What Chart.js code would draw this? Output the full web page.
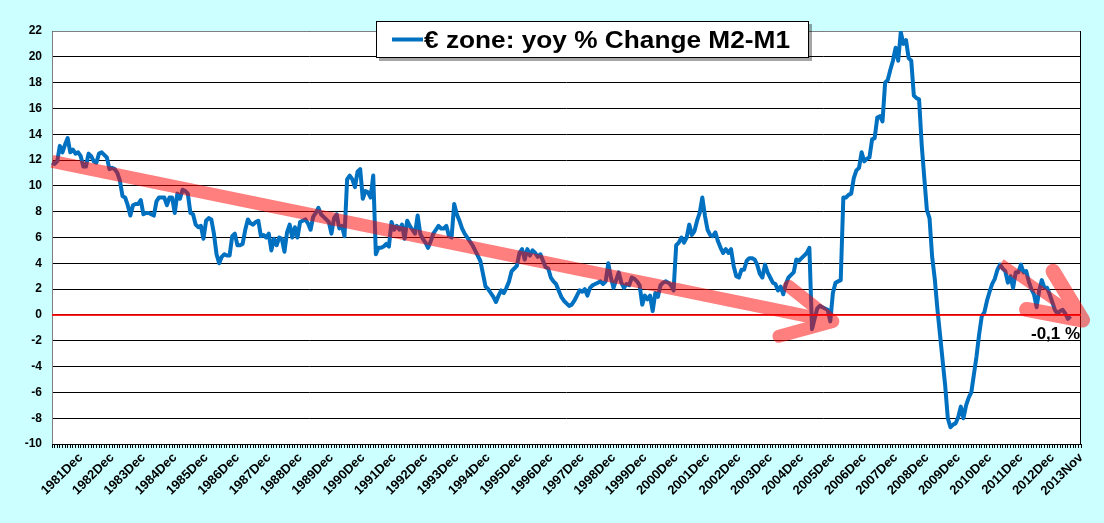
<!DOCTYPE html>
<html>
<head>
<meta charset="utf-8">
<title>€ zone: yoy % Change M2-M1</title>
<script src="https://cdn.jsdelivr.net/npm/chart.js@4.4.1/dist/chart.umd.min.js"></script>
<style>
  html, body { margin: 0; padding: 0; background: #ccffff; }
  canvas { display: block; }
</style>
</head>
<body>
<canvas id="chart" width="1104" height="523"></canvas>
<script>
// Monthly categories, 1981Jan .. 2013Nov
const monthNames = ['Jan', 'Feb', 'Mar', 'Apr', 'May', 'Jun', 'Jul', 'Aug', 'Sep', 'Oct', 'Nov', 'Dec'];
const firstYear = 1981;
const lastYear = 2013;
const lastYearMonths = 11;

const months = [];
for (let yr = firstYear; yr <= lastYear; yr++) {
  const n = yr === lastYear ? lastYearMonths : 12;
  for (let m = 0; m < n; m++) months.push(yr + monthNames[m]);
}

// yoy % change of M2-M1 (ends mid 2013)
const m2m1Change = [
  11.8, 11.7, 11.9, 13.1, 12.6, 13.2, 13.7, 12.6, 12.8, 12.5, 12.6, 12.3,
  11.5, 11.5, 12.5, 12.3, 11.9, 11.8, 12.5, 12.6, 12.4, 12.2, 11.3, 11.4,
  11.3, 11.0, 10.4, 9.2, 9.1, 8.5, 7.7, 8.5, 8.6, 8.6, 8.9, 7.8,
  7.9, 7.9, 7.8, 7.7, 8.8, 9.1, 9.1, 9.1, 8.5, 9.1, 9.1, 7.9,
  9.4, 9.0, 9.7, 9.6, 9.4, 7.9, 7.8, 7.0, 6.8, 6.9, 5.9, 7.3,
  7.5, 7.4, 6.3, 4.7, 4.0, 4.5, 4.7, 4.6, 4.6, 6.1, 6.3, 5.4,
  5.4, 5.5, 6.6, 7.4, 7.1, 7.0, 7.2, 7.3, 6.1, 6.2, 6.0, 6.3,
  5.0, 5.9, 5.4, 6.0, 5.9, 4.9, 6.4, 7.0, 6.0, 6.8, 6.0, 7.2,
  7.3, 7.4, 7.1, 6.6, 7.6, 7.9, 8.3, 7.8, 7.6, 7.4, 7.2, 6.3,
  7.5, 7.8, 6.7, 6.9, 6.1, 10.5, 10.8, 10.5, 9.9, 11.1, 11.3, 9.0,
  9.6, 9.5, 9.1, 10.8, 4.7, 5.2, 5.2, 5.3, 5.5, 5.3, 7.2, 6.6,
  6.9, 6.6, 7.0, 5.9, 7.3, 6.9, 6.6, 6.3, 7.7, 6.3, 5.9, 5.6,
  5.2, 5.7, 6.3, 6.6, 6.9, 6.7, 6.7, 6.9, 6.1, 6.0, 8.6, 7.8,
  7.3, 6.7, 6.3, 6.0, 5.7, 5.4, 5.0, 4.6, 4.2, 3.2, 2.2, 2.0,
  1.7, 1.4, 1.0, 1.5, 1.9, 1.7, 2.1, 2.6, 3.4, 3.6, 3.8, 4.8,
  5.1, 4.3, 5.1, 4.6, 5.0, 4.8, 4.5, 4.7, 4.2, 3.7, 3.6, 2.9,
  2.6, 2.4, 1.9, 1.4, 1.1, 0.9, 0.7, 0.8, 1.1, 1.5, 1.9, 1.8,
  2.0, 1.5, 2.1, 2.3, 2.4, 2.5, 2.6, 2.4, 2.6, 4.0, 2.9, 2.1,
  2.7, 3.3, 2.5, 2.1, 2.4, 2.3, 2.9, 2.8, 2.6, 2.3, 0.8, 1.5,
  1.2, 1.5, 0.3, 1.7, 1.4, 2.3, 2.5, 2.6, 2.5, 2.3, 1.9, 5.4,
  5.6, 6.0, 5.6, 6.0, 7.0, 6.2, 6.5, 7.3, 7.9, 9.1, 7.7, 6.6,
  6.2, 6.1, 6.4, 5.7, 5.2, 4.8, 5.1, 4.8, 5.1, 3.8, 3.0, 2.9,
  3.5, 3.5, 4.2, 4.4, 4.4, 4.3, 3.9, 3.2, 2.9, 3.9, 3.3, 2.9,
  2.5, 2.4, 1.9, 2.2, 1.6, 2.4, 2.9, 3.1, 3.3, 4.3, 4.2, 4.4,
  4.6, 4.8, 5.2, -1.1, -0.3, 0.5, 0.7, 0.6, 0.5, 0.4, -0.5, 1.7,
  2.5, 2.6, 2.7, 9.1, 9.1, 9.3, 9.4, 10.6, 11.2, 11.4, 12.6, 11.9,
  12.1, 12.2, 13.6, 13.7, 15.3, 15.4, 15.0, 18.0, 18.2, 19.0, 19.7, 20.7,
  19.7, 21.9, 21.0, 21.3, 19.9, 19.7, 17.0, 16.8, 16.7, 13.2, 10.6, 8.1,
  7.5, 4.5, 2.8, 0.5, -1.5, -3.5, -5.5, -8.0, -8.7, -8.5, -8.4, -7.9,
  -7.1, -8.0, -7.0, -6.4, -6.0, -4.6, -3.2, -1.5, -0.1, 0.2, 1.1, 1.8,
  2.4, 2.8, 3.5, 3.9, 3.6, 3.4, 2.5, 3.0, 2.1, 3.3, 3.3, 3.9,
  3.3, 3.4, 2.6, 2.0, 1.6, 0.6, 1.9, 2.7, 2.1, 2.1, 1.6, 1.0,
  0.4, 0.1, 0.3, 0.4, 0.1, -0.3, -0.1
];

// y axis ticks
const yMin = -10;
const yMax = 22;
const yStep = 2;

// red trend arrows, [month index, value] for tail and tip
const trendArrows = [
  { from: [0, 11.9], to: [299, -0.5], shaft: 13, head: 13, headLen: 56, spread: 27 },
  { from: [363.3, 4.0], to: [394.6, -0.4], shaft: 10, head: 15, headLen: 57, spread: 24 }
];

const seriesLabel = '€ zone: yoy % Change M2-M1';
const lineColor = '#0070c0';
const fontFamily = '"Liberation Sans", Arial, sans-serif';

const decorPlugin = {
  id: 'decor',
  beforeDraw(chart) {
    const { ctx, chartArea: a } = chart;
    ctx.save();
    ctx.fillStyle = '#ccffff';
    ctx.fillRect(0, 0, chart.width, chart.height);
    ctx.fillStyle = '#ffffff';
    ctx.fillRect(a.left, a.top, a.right - a.left, a.bottom - a.top);
    ctx.restore();
  },
  beforeDatasetsDraw(chart) {
    const { ctx, chartArea: a } = chart;
    ctx.save();
    ctx.lineWidth = 1;
    ctx.strokeStyle = '#808080';
    ctx.beginPath();
    ctx.moveTo(a.left + 0.5, a.bottom);
    ctx.lineTo(a.left + 0.5, a.top + 0.5);
    ctx.lineTo(a.right, a.top + 0.5);
    ctx.stroke();
    ctx.strokeStyle = '#000000';
    ctx.beginPath();
    ctx.moveTo(a.right - 0.5, a.top);
    ctx.lineTo(a.right - 0.5, a.bottom);
    ctx.stroke();
    ctx.restore();
  },
  afterDatasetsDraw(chart) {
    const { ctx, chartArea: a, scales: { x, y } } = chart;

    // zero line
    const zy = Math.round(y.getPixelForValue(0));
    ctx.save();
    ctx.strokeStyle = 'rgba(255,0,0,0.85)';
    ctx.lineWidth = 2;
    ctx.beginPath();
    ctx.moveTo(a.left, zy);
    ctx.lineTo(a.right, zy);
    ctx.stroke();
    ctx.restore();

    // arrows go on an offscreen canvas first so overlaps don't get darker
    const off = document.createElement('canvas');
    off.width = chart.width;
    off.height = chart.height;
    const oc = off.getContext('2d');
    oc.strokeStyle = '#ff0000';
    trendArrows.forEach(ar => {
      const x0 = x.getPixelForValue(ar.from[0]), y0 = y.getPixelForValue(ar.from[1]);
      const x1 = x.getPixelForValue(ar.to[0]), y1 = y.getPixelForValue(ar.to[1]);
      const ang = Math.atan2(y1 - y0, x1 - x0);
      const sp = ar.spread * Math.PI / 180;
      oc.lineCap = 'butt';
      oc.lineWidth = ar.shaft;
      oc.beginPath();
      oc.moveTo(x0, y0);
      oc.lineTo(x1 - Math.cos(ang) * 4, y1 - Math.sin(ang) * 4);
      oc.stroke();
      oc.lineCap = 'round';
      oc.lineJoin = 'round';
      oc.lineWidth = ar.head;
      oc.beginPath();
      oc.moveTo(x1 + Math.cos(ang + Math.PI - sp) * ar.headLen, y1 + Math.sin(ang + Math.PI - sp) * ar.headLen);
      oc.lineTo(x1, y1);
      oc.lineTo(x1 + Math.cos(ang + Math.PI + sp) * ar.headLen, y1 + Math.sin(ang + Math.PI + sp) * ar.headLen);
      oc.stroke();
    });
    ctx.save();
    ctx.globalAlpha = 0.5;
    ctx.drawImage(off, 0, 0);
    ctx.restore();

    // last value note
    const last = m2m1Change.length - 1;
    const lx = x.getPixelForValue(last);
    const ly = y.getPixelForValue(m2m1Change[last]);
    ctx.save();
    ctx.fillStyle = '#000';
    ctx.font = 'bold 17px ' + fontFamily;
    ctx.textAlign = 'center';
    ctx.textBaseline = 'alphabetic';
    ctx.fillText(m2m1Change[last].toFixed(1).replace('.', ',') + ' %', lx - 15, ly + 23);
    ctx.restore();
  },
  afterDraw(chart) {
    // legend box overlapping the top of the plot
    const { ctx } = chart;
    const bx = 376, by = 21, bw = 433, bh = 37;
    ctx.save();
    ctx.fillStyle = 'rgba(0,0,0,0.35)';
    ctx.fillRect(bx + 3, by + 3, bw, bh);
    ctx.fillStyle = '#ffffff';
    ctx.fillRect(bx, by, bw, bh);
    ctx.strokeStyle = '#000';
    ctx.lineWidth = 1;
    ctx.strokeRect(bx + 0.5, by + 0.5, bw - 1, bh - 1);
    ctx.strokeStyle = lineColor;
    ctx.lineWidth = 4;
    ctx.beginPath();
    ctx.moveTo(392, 39.5);
    ctx.lineTo(423, 39.5);
    ctx.stroke();
    ctx.fillStyle = '#000';
    ctx.font = 'bold 23px ' + fontFamily;
    ctx.textBaseline = 'alphabetic';
    const w = ctx.measureText(seriesLabel).width;
    ctx.translate(424, 47.5);
    ctx.scale(366 / w, 1);
    ctx.fillText(seriesLabel, 0, 0);
    ctx.restore();
  }
};

new Chart(document.getElementById('chart'), {
  type: 'line',
  data: {
    labels: months,
    datasets: [{
      label: seriesLabel,
      data: m2m1Change,
      borderColor: lineColor,
      backgroundColor: lineColor,
      borderWidth: 4,
      pointRadius: 0,
      tension: 0,
      borderJoinStyle: 'round'
    }]
  },
  options: {
    responsive: false,
    animation: false,
    devicePixelRatio: 1,
    layout: { padding: { top: 31, right: 23, left: 0, bottom: 0 } },
    plugins: {
      legend: { display: false },
      tooltip: { enabled: false }
    },
    scales: {
      x: {
        type: 'category',
        offset: false,
        afterFit(scale) { scale.height = 79; },
        grid: { drawOnChartArea: false, drawTicks: true, tickLength: 4, color: '#000' },
        border: { color: '#000' },
        ticks: {
          autoSkip: false,
          minRotation: 45,
          maxRotation: 45,
          padding: 2,
          color: '#000',
          font: { family: fontFamily, size: 13, weight: 'bold' },
          callback(value, index) {
            const lbl = months[index];
            return (lbl.endsWith('Dec') || index === months.length - 1) ? lbl : '';
          }
        }
      },
      y: {
        min: yMin,
        max: yMax,
        afterFit(scale) { scale.width = 52; },
        grid: { color: '#000', drawTicks: false },
        border: { display: false },
        ticks: {
          stepSize: yStep,
          padding: 10,
          color: '#000',
          font: { family: fontFamily, size: 12, weight: 'bold' }
        }
      }
    }
  },
  plugins: [decorPlugin]
});
</script>
</body>
</html>
